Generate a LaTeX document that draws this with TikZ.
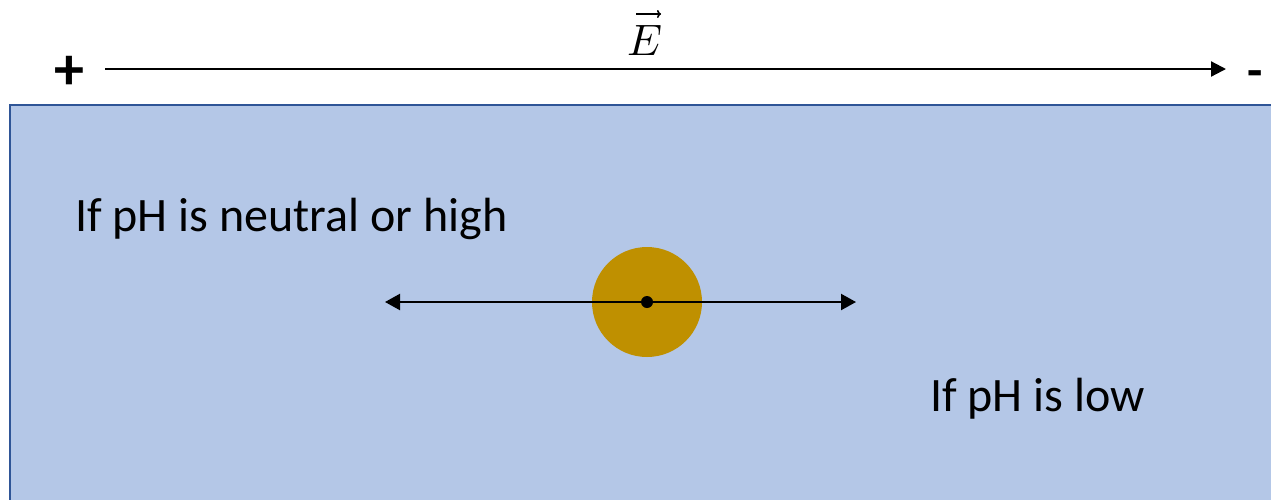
\documentclass[tikz,border=0pt]{standalone}
\usepackage{fontspec}
\usepackage{unicode-math}
\setmainfont{Carlito}
\setmathfont{Latin Modern Math}
\usetikzlibrary{arrows.meta}
\definecolor{boxfill}{HTML}{B4C7E7}
\definecolor{boxline}{HTML}{2F5597}
\definecolor{ball}{HTML}{BF9000}
\tikzset{
  lbl/.style={font=\fontsize{48}{50}\selectfont, inner sep=0pt, anchor=base west},
  sign/.style={font=\bfseries\fontsize{60}{60}\selectfont, inner sep=0pt},
  field/.style={line width=2.2pt, -{Triangle[length=15pt,width=15pt]}},
  vecarrow/.style={line width=1.6pt, -{To[length=4pt,width=8pt]}},
  motion/.style={line width=2.2pt, {Triangle[length=15pt,width=16pt]}-{Triangle[length=15pt,width=16pt]}}
}
\begin{document}
\begin{tikzpicture}[x=1pt,y=-1pt]
\useasboundingbox (0,0) rectangle (1271,499);
\fill[white] (0,0) rectangle (1271,499);
% box
\draw[boxline, line width=2.5pt, fill=boxfill] (10,105) rectangle (1290,520);
% field arrow
\node[sign] (plus) at (69,73) {+};
\node[sign, font=\bfseries\fontsize{50}{50}\selectfont] (minus) at (1255,79) {-};
\coordinate (fs) at (105,69);
\coordinate (fe) at (1226,69);
\draw[field] (fs) -- (fe);
\node[inner sep=0pt, anchor=base] (E) at (645,55) {\fontsize{44}{44}\selectfont$E$};
\coordinate (va) at (636,14);
\coordinate (vb) at (661,14);
\draw[vecarrow] (va) -- (vb);
% texts
\node[lbl] (t1) at (75,231) {If pH is neutral or high};
\node[lbl] (t2) at (930,411) {If pH is low};
% particle
\node[circle, fill=ball, minimum size=110pt, inner sep=0pt] (p) at (647,302) {};
\coordinate (la) at (385,302);
\coordinate (ra) at (856,302);
\draw[motion] (la) -- (ra);
\node[circle, fill=black, minimum size=12pt, inner sep=0pt] (dot) at (p.center) {};
\end{tikzpicture}
\end{document}
